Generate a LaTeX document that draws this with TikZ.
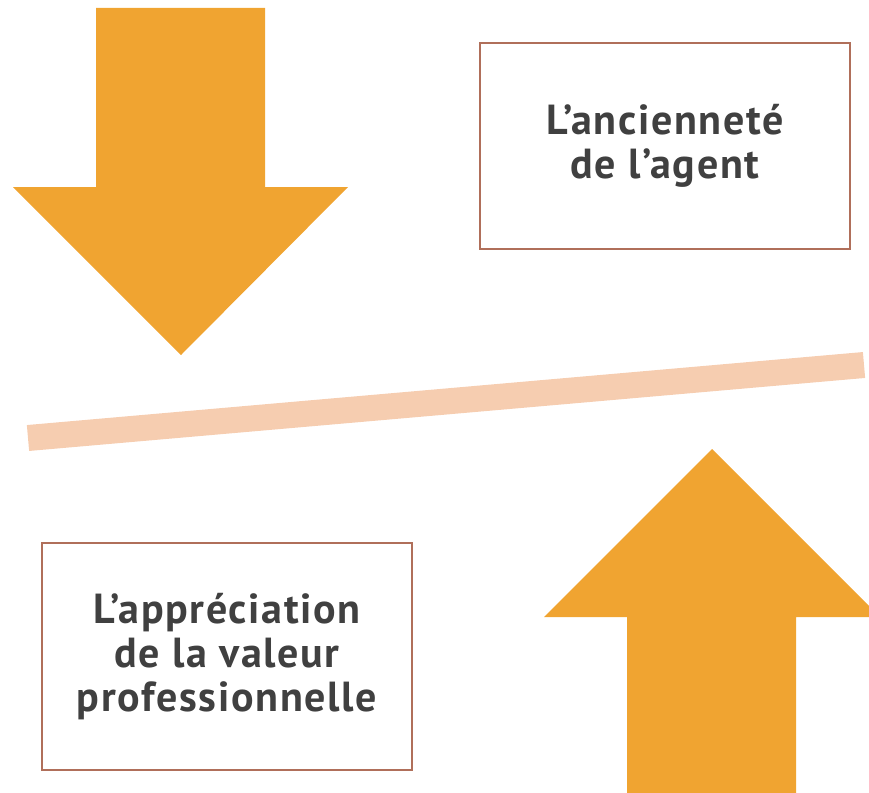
\documentclass[tikz,border=0pt]{standalone}
\usepackage{fontspec}
\setmainfont[LetterSpace=4]{PT Sans}
\definecolor{arrowcol}{HTML}{F0A431}
\definecolor{barcol}{HTML}{F6CDB0}
\definecolor{boxcol}{HTML}{B06F5A}
\definecolor{txtcol}{HTML}{404040}
\tikzset{
  bigarrow/.style={fill=arrowcol, draw=none},
  textbox/.style={draw=boxcol, line width=1.3pt, fill=white, align=center,
    text=txtcol, font=\fontsize{42}{44}\selectfont\bfseries, inner sep=0pt},
}
\begin{document}
\begin{tikzpicture}[x=1pt,y=-1pt]
\useasboundingbox (0,0) rectangle (869,792);
% down arrow
\fill[bigarrow] (96,8) -- (265,8) -- (265,187) -- (348,187) -- (181,355) -- (13,187) -- (96,187) -- cycle;
% up arrow
\fill[bigarrow] (627,800) -- (796,800) -- (796,617) -- (880,617) -- (712,449) -- (544,617) -- (627,617) -- cycle;
% bar
\coordinate (barL) at (28,438);
\coordinate (barR) at (864,365);
\draw[barcol, line width=26pt] (barL) -- (barR);
% boxes
\node[textbox, minimum width=370pt, minimum height=206pt] (anc) at (665,146) {L’ancienneté\\de l’agent};
\node[textbox, minimum width=370pt, minimum height=227pt] (app) at (227,656.5) {L’appréciation\\de la valeur\\professionnelle};
\end{tikzpicture}
\end{document}
